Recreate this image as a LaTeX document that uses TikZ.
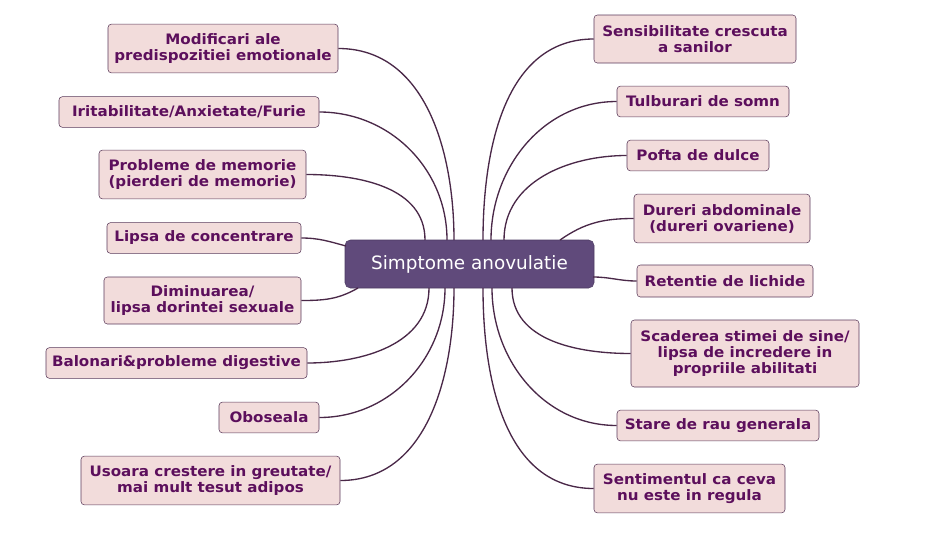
\documentclass[tikz,border=0pt]{standalone}
\usepackage{fontspec}
\setmainfont{DejaVu Sans}
\newfontfamily\sympfont[FakeStretch=1.05]{DejaVu Sans}
\usepackage{xcolor}

\definecolor{boxfill}{HTML}{F2DCDB}
\definecolor{boxline}{HTML}{5A3A5A}
\definecolor{boxtext}{HTML}{5C0F5C}
\definecolor{midfill}{HTML}{604A7B}
\definecolor{linkcol}{HTML}{4A2848}

\begin{document}
\begin{tikzpicture}[x=0.75pt,y=-0.75pt,
  symp/.style={draw=boxline, fill=boxfill, rounded corners=2.5pt, text=boxtext,
    font=\sympfont\fontsize{10.8}{12}\selectfont\bfseries, align=center, inner sep=1pt,
    minimum height=23pt},
  symp2/.style={symp, minimum height=36.5pt},
  midbox/.style={draw=midfill!80!black, fill=midfill, rounded corners=4pt, text=white,
    font=\fontsize{13.8}{15}\selectfont, minimum width=186.75pt, minimum height=36pt},
  link/.style={draw=linkcol, line width=1pt}]

\useasboundingbox (0,0) rectangle (932,536);

% centre
\node[midbox] (sim) at (469.5,264) {Simptome anovulatie};

% points on the centre box
\coordinate (st1) at (454,240);
\coordinate (st2) at (447,240);
\coordinate (st3) at (425,240);
\coordinate (sl4) at (346,246);
\coordinate (sb5) at (358,288);
\coordinate (sb6) at (429,288);
\coordinate (sb7) at (445,288);
\coordinate (sb8) at (454,288);
\coordinate (rt1) at (483,240);
\coordinate (rt2) at (491,240);
\coordinate (rt3) at (504,240);
\coordinate (rt4) at (560,240);
\coordinate (rr5) at (593,277);
\coordinate (rb6) at (512,288);
\coordinate (rb7) at (492,288);
\coordinate (rb8) at (483,288);

% left
\node[symp2, minimum width=172.5pt] (lmood) at (223,48.5) {Modificari ale\\predispozitiei emotionale};
\node[symp, minimum width=195pt] (lirit) at (189,112) {Iritabilitate/Anxietate/Furie};
\node[symp2, minimum width=155.25pt] (lmem) at (202.5,174.5) {Probleme de memorie\\(pierderi de memorie)};
\node[symp, minimum width=145.5pt] (lconc) at (204,238) {Lipsa de concentrare};
\node[symp2, minimum width=147.75pt, minimum height=35.25pt] (llib) at (202.5,300.5) {Diminuarea/\\lipsa dorintei sexuale};
\node[symp, minimum width=195.75pt] (lbal) at (176.5,363) {Balonari\&probleme digestive};
\node[symp, minimum width=75pt] (lobo) at (269,417.5) {Oboseala};
\node[symp2, minimum width=194.25pt] (lgreu) at (210.5,480.5) {Usoara crestere in greutate/\\mai mult tesut adipos};

% right
\node[symp2, minimum width=151.5pt, minimum height=36pt] (rsan) at (695,39) {Sensibilitate crescuta\\a sanilor};
\node[symp, minimum width=129pt] (rsomn) at (703,101.5) {Tulburari de somn};
\node[symp, minimum width=106.5pt] (rdulce) at (698,155.5) {Pofta de dulce};
\node[symp2, minimum width=132pt] (rabd) at (722,218.5) {Dureri abdominale\\(dureri ovariene)};
\node[symp, minimum width=132pt, minimum height=24pt] (rlich) at (725,281) {Retentie de lichide};
\node[symp, minimum width=171pt, minimum height=50.25pt] (rstima) at (745,353.5) {Scaderea stimei de sine/\\lipsa de incredere in\\propriile abilitati};
\node[symp, minimum width=151.5pt] (rrau) at (718,425.5) {Stare de rau generala};
\node[symp2, minimum width=143.25pt] (rsent) at (689.5,488.5) {Sentimentul ca ceva\\nu este in regula};

% connectors left
\draw[link] (lmood.east) to[out=0,in=90] (st1);
\draw[link] (lirit.east) to[out=0,in=90] (st2);
\draw[link] (lmem.east) to[out=0,in=90] (st3);
\draw[link] (lconc.east) to[out=0,in=165] (sl4);
\draw[link] (llib.east) to[out=0,in=-150] (sb5);
\draw[link] (lbal.east) to[out=0,in=-90] (sb6);
\draw[link] (lobo.east) to[out=0,in=-90] (sb7);
\draw[link] (lgreu.east) to[out=0,in=-90] (sb8);

% connectors right
\draw[link] (rsan.west) to[out=180,in=90] (rt1);
\draw[link] (rsomn.west) to[out=180,in=90] (rt2);
\draw[link] (rdulce.west) to[out=180,in=90] (rt3);
\draw[link] (rabd.west) to[out=180,in=35] (rt4);
\draw[link] (rlich.west) to[out=180,in=0] (rr5);
\draw[link] (rstima.west) to[out=180,in=-90] (rb6);
\draw[link] (rrau.west) to[out=180,in=-90] (rb7);
\draw[link] (rsent.west) to[out=180,in=-90] (rb8);

\end{tikzpicture}
\end{document}
